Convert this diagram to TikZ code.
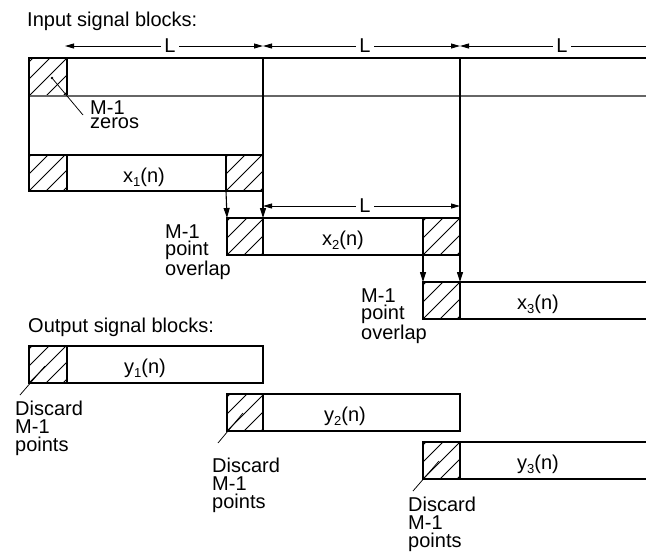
\documentclass[tikz,border=0pt]{standalone}
\usepackage{fontspec}
\setmainfont{Liberation Sans}
\usetikzlibrary{arrows.meta,calc}
\tikzset{
  blk/.style={draw, line width=1.1pt, rectangle, anchor=north west, inner sep=0pt, outer sep=0pt},
  boxline/.style={line width=1.1pt},
  grayline/.style={line width=1.3pt, black!60},
  lbl/.style={font=\fontsize{20}{20}\selectfont, inner sep=0pt, anchor=base west},
  lblc/.style={font=\fontsize{20}{20}\selectfont, inner sep=0pt, anchor=base},
  multi/.style={font=\fontsize{20}{#1}\selectfont, inner sep=0pt, anchor=north west, align=left},
  dimgap/.style={font=\fontsize{20}{20}\selectfont, inner ysep=0pt, inner xsep=3.5pt, fill=white, anchor=center},
  dimline/.style={line width=0.8pt, {Triangle[length=9pt,width=5pt]}-{Triangle[length=9pt,width=5pt]}},
  dimleft/.style={line width=0.8pt, {Triangle[length=9pt,width=5pt]}-},
  arr/.style={line width=1.1pt, -{Triangle[length=10pt,width=6pt]}},
  hl/.style={line width=0.75pt},
}
\newcommand\sbs[1]{\raisebox{-4.5pt}{\fontsize{13}{13}\selectfont #1}}
\newcommand\hatchin[1]{%
  \begin{scope}
    \clip (#1.south west) rectangle (#1.north east);
    \foreach \k in {-3,...,3}
      \draw[hl] ($(#1.south west)+({\k*17},0)$) -- ++(60,-60);
  \end{scope}}
\begin{document}
\begin{tikzpicture}[x=1pt,y=-1pt]
\useasboundingbox (0,0) rectangle (646,558);

% ---------- input title and dimension lines
\node[lbl] (tin) at (27,26) {Input signal blocks:};
\coordinate (d0) at (65,46);
\coordinate (d1) at (263,46);
\coordinate (d2) at (460,46);
\coordinate (d3) at (646,46);
\draw[dimline] (d0) -- (d1);
\draw[dimline] (d1) -- (d2);
\draw[dimleft] (d2) -- (d3);
\node[dimgap] (L1) at (170,46) {L};
\node[dimgap] (L2) at (365,46) {L};
\node[dimgap] (L3) at (562,46) {L};

% ---------- top band with M-1 zeros
\node[blk, minimum width=38pt, minimum height=38pt] (z) at (29,58) {};
\hatchin{z}
\coordinate (tl) at (29,58);
\coordinate (tr) at (646,58);
\coordinate (ml) at (29,96);
\coordinate (mr) at (646,96);
\draw[grayline] (ml) -- (mr);

% ---------- x1 block
\node[blk, minimum width=234pt, minimum height=36pt] (x1) at (29,155) {};
\node[blk, minimum width=38pt, minimum height=36pt] (x1a) at (29,155) {};
\node[blk, minimum width=37pt, minimum height=36pt] (x1b) at (226,155) {};
\hatchin{x1a}
\hatchin{x1b}
\draw[boxline] (x1.north west) -- (tl) -- (tr);
\node[lblc] (x1t) at (144,182) {x\sbs{1}(n)};

% ---------- x2 block
\node[blk, minimum width=233pt, minimum height=37pt] (x2) at (227,218) {};
\node[blk, minimum width=36pt, minimum height=37pt] (x2a) at (227,218) {};
\node[blk, minimum width=37pt, minimum height=37pt] (x2b) at (423,218) {};
\hatchin{x2a}
\hatchin{x2b}
\node[lblc] (x2t) at (343,245) {x\sbs{2}(n)};

% ---------- x3 block (open to the right)
\node[blk, minimum width=37pt, minimum height=37pt] (x3a) at (423,282) {};
\hatchin{x3a}
\coordinate (x3r1) at (646,282);
\coordinate (x3r2) at (646,319);
\draw[boxline] (x3a.north east) -- (x3r1);
\draw[boxline] (x3a.south east) -- (x3r2);
\node[lblc] (x3t) at (538,309) {x\sbs{3}(n)};

% ---------- verticals and arrows
\coordinate (v1) at (263,58);
\coordinate (v2) at (460,58);
\draw[arr] (v1) -- (x2a.north east);
\draw[boxline] (v2) -- (x2.north east);
\draw[arr] (x1b.south west) -- (x2a.north west);
\draw[arr] (x2b.south west) -- (x3a.north west);
\draw[arr] (x2b.south east) -- (x3a.north east);

% ---------- dimension over x2
\coordinate (e1) at (263,206);
\coordinate (e2) at (460,206);
\draw[dimline] (e1) -- (e2);
\node[dimgap] (L4) at (365,206) {L};

% ---------- labels of input part
\coordinate (zdot) at (52,78);
\coordinate (zend) at (83,115);
\fill (zdot) circle (1.3pt);
\draw[hl] (zdot) -- (zend);
\node[multi=14] (zlab) at (90,100.7) {M-1\\zeros};

\node[multi=16.8] (ov1) at (165,224.7) {M-1\\point\\overlap};
\node[multi=17] (ov2) at (361,288.7) {M-1\\point\\overlap};

% ---------- output part
\node[lbl] (tout) at (28,332) {Output signal blocks:};

\node[blk, minimum width=234pt, minimum height=37pt] (y1) at (29,346) {};
\node[blk, minimum width=38pt, minimum height=37pt] (y1a) at (29,346) {};
\hatchin{y1a}
\node[lblc] (y1t) at (145,373) {y\sbs{1}(n)};

\node[blk, minimum width=233pt, minimum height=37pt] (y2) at (227,394) {};
\node[blk, minimum width=36pt, minimum height=37pt] (y2a) at (227,394) {};
\hatchin{y2a}
\node[lblc] (y2t) at (345,421) {y\sbs{2}(n)};

\node[blk, minimum width=37pt, minimum height=37pt] (y3a) at (423,442) {};
\hatchin{y3a}
\coordinate (y3r1) at (646,442);
\coordinate (y3r2) at (646,479);
\draw[boxline] (y3a.north east) -- (y3r1);
\draw[boxline] (y3a.south east) -- (y3r2);
\node[lblc] (y3t) at (538,469) {y\sbs{3}(n)};

% ---------- discard leaders
\coordinate (p1i) at (45,366); \coordinate (p1o) at (20,395);
\coordinate (p2i) at (243,413); \coordinate (p2o) at (218,443);
\coordinate (p3i) at (439,461); \coordinate (p3o) at (413,491);
\draw[hl] (p1i) -- (p1o);
\draw[hl] (p2i) -- (p2o);
\draw[hl] (p3i) -- (p3o);

\node[multi=18] (q1) at (15,400.7) {Discard\\M-1\\points};
\node[multi=18] (q2) at (212,457.7) {Discard\\M-1\\points};
\node[multi=18] (q3) at (408,496.7) {Discard\\M-1\\points};
\end{tikzpicture}
\end{document}
